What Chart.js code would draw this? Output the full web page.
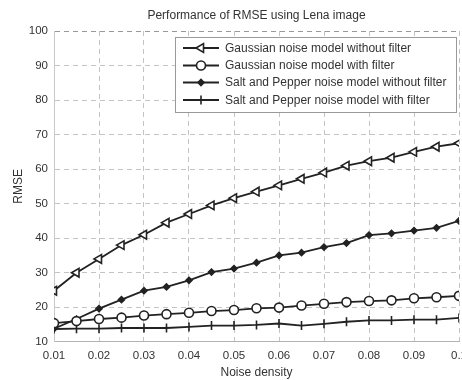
<!DOCTYPE html>
<html>
<head>
<meta charset="utf-8">
<script src="https://cdn.jsdelivr.net/npm/chart.js@4/dist/chart.umd.min.js"></script>
<style>
html,body{margin:0;padding:0;background:#fff;overflow:hidden;width:462px;height:380px;}
#wrap{position:absolute;left:0;top:0;width:475px;height:380px;}
</style>
</head>
<body>
<div id="wrap"><canvas id="c" width="475" height="380"></canvas></div>
<script>
const noiseDensity = [0.01,0.015,0.02,0.025,0.03,0.035,0.04,0.045,0.05,0.055,0.06,0.065,0.07,0.075,0.08,0.085,0.09,0.095,0.1];
const gaussNoFilter = [24.8,30,34,38,41,44.5,47,49.5,51.6,53.5,55.3,57.2,59,61,62.3,63.3,65,66.5,67.5];
const gaussFilter = [15.4,16,16.6,17,17.6,18,18.4,18.9,19.2,19.7,19.9,20.5,21,21.5,21.8,22,22.6,22.9,23.3];
const spNoFilter = [13.8,16.6,19.6,22.2,24.8,25.9,27.8,30.2,31.2,32.9,35,35.8,37.4,38.6,40.9,41.4,42.2,43,45];
const spFilter = [13.7,13.8,13.8,14,14,14,14.3,14.7,14.7,14.9,15.3,14.7,15.2,15.8,16.2,16.2,16.4,16.4,16.9];
const seriesNames = ['Gaussian noise model without filter','Gaussian noise model with filter','Salt and Pepper noise model without filter','Salt and Pepper noise model with filter'];
const xTicks = [0.01,0.02,0.03,0.04,0.05,0.06,0.07,0.08,0.09,0.1];
const yTicks = [10,20,30,40,50,60,70,80,90,100];
const chartTitle = 'Performance of RMSE using Lena image';

const FONT = '"Liberation Sans", Arial, sans-serif';
const pts = (ys) => noiseDensity.map((x,i)=>({x:x,y:ys[i]}));

const styles = [
  {pointStyle:'triangle', rotation:-90, radius:5, bg:'#fff'},
  {pointStyle:'circle', rotation:0, radius:4.5, bg:'#fff'},
  {pointStyle:'rectRot', rotation:0, radius:3, bg:'#222'},
  {pointStyle:'line', rotation:90, radius:4.5, bg:'#222'}
];
const seriesData = [gaussNoFilter, gaussFilter, spNoFilter, spFilter];

const datasets = seriesData.map((d,i)=>({
  label: seriesNames[i],
  data: pts(d),
  borderColor:'#222',
  borderWidth:1.8,
  pointStyle: styles[i].pointStyle,
  rotation: styles[i].rotation,
  pointRadius: styles[i].radius,
  pointBackgroundColor: styles[i].bg,
  pointBorderColor:'#222',
  pointBorderWidth:1.6,
  tension:0,
  fill:false
}));

const titleAndLegend = {
  id:'titleAndLegend',
  afterDraw(chart){
    const ctx = chart.ctx;
    const ca = chart.chartArea;
    ctx.save();
    ctx.font='12px '+FONT;
    ctx.fillStyle='#333';
    ctx.textAlign='center';
    ctx.textBaseline='middle';
    ctx.fillText(chartTitle,(ca.left+ca.right)/2,16);
    const x0=175, y0=37, w=281, h=75;
    ctx.fillStyle='#fff';
    ctx.fillRect(x0,y0,w,h);
    ctx.strokeStyle='#999';
    ctx.lineWidth=1;
    ctx.strokeRect(x0+0.5,y0+0.5,w,h);
    const rows=[48,65.5,82.5,100];
    ctx.font='12px '+FONT;
    ctx.textAlign='left';
    datasets.forEach((ds,i)=>{
      const y=rows[i];
      ctx.strokeStyle='#222';
      ctx.lineWidth=1.8;
      ctx.beginPath();
      ctx.moveTo(183,y);ctx.lineTo(219,y);ctx.stroke();
      ctx.fillStyle=ds.pointBackgroundColor;
      ctx.strokeStyle='#222';
      ctx.lineWidth=1.6;
      Chart.helpers.drawPoint(ctx,{pointStyle:ds.pointStyle,rotation:ds.rotation,radius:ds.pointRadius,borderWidth:1.6},201,y);
      ctx.fillStyle='#333';
      ctx.fillText(ds.label,225,y+0.5);
    });
    ctx.restore();
  }
};

new Chart(document.getElementById('c'),{
  type:'line',
  data:{datasets:datasets},
  options:{
    responsive:false,
    animation:false,
    layout:{padding:{left:0,right:16,top:31,bottom:0}},
    plugins:{
      legend:{display:false},
      tooltip:{enabled:false},
      title:{display:false}
    },
    scales:{
      x:{type:'linear',min:0.01,max:0.1,
        afterBuildTicks(s){s.ticks=xTicks.map(v=>({value:v}));},
        ticks:{color:'#333',font:{family:FONT,size:11.5},padding:7,maxRotation:0,
          callback:(v)=>String(Math.round(v*100)/100)},
        grid:{color:'#c4c4c4',lineWidth:1,drawTicks:false},
        border:{display:true,color:'#b4b4b4',dash:[5,4]},
        title:{display:true,text:'Noise density',color:'#333',font:{family:FONT,size:12},padding:{top:-4,bottom:0}}
      },
      y:{min:10,max:100,
        afterBuildTicks(s){s.ticks=yTicks.map(v=>({value:v}));},
        afterFit(s){s.width=54;},
        ticks:{color:'#333',font:{family:FONT,size:11.5},padding:6},
        grid:{color:function(c){return c.tick && c.tick.value===100 ? '#999' : '#c4c4c4';},lineWidth:1,drawTicks:false},
        border:{display:true,color:'#c8c8c8',dash:[5,4]},
        title:{display:true,text:'RMSE',color:'#333',font:{family:FONT,size:12},padding:{top:11,bottom:4}}
      }
    }
  },
  plugins:[titleAndLegend]
});
</script>
</body>
</html>
